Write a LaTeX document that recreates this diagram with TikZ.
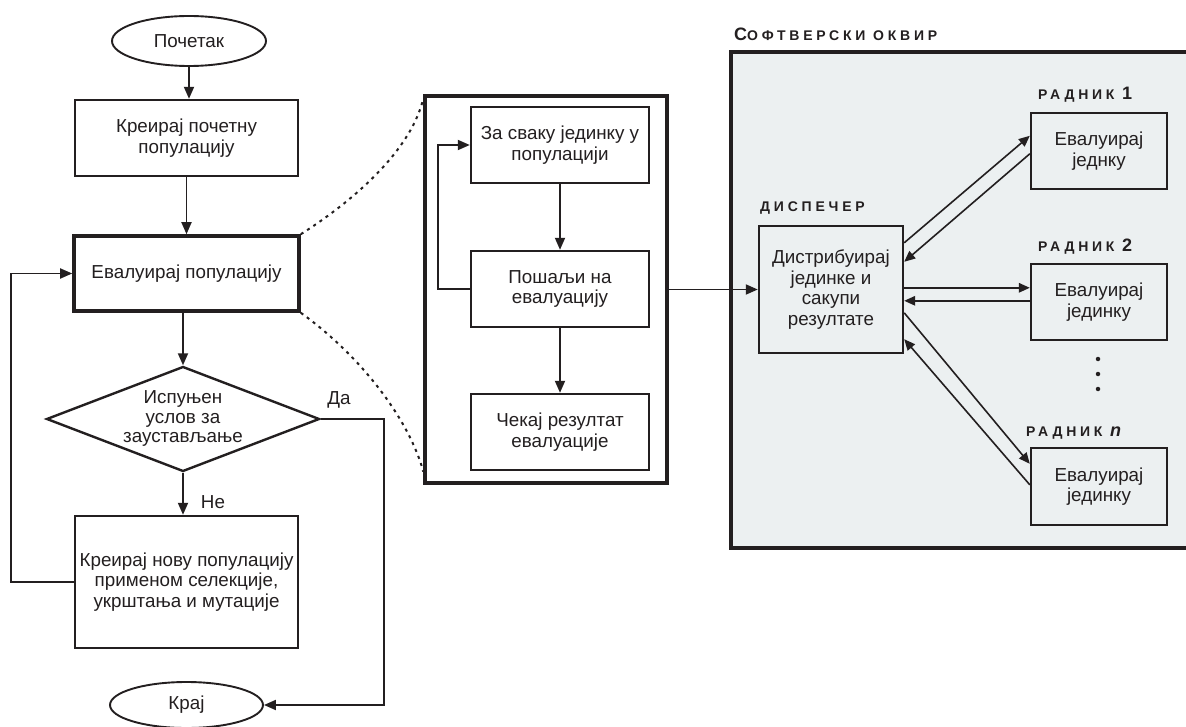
\documentclass[tikz,border=0pt]{standalone}
\usepackage{fontspec}
\setmainfont{Liberation Sans}
\usetikzlibrary{shapes.geometric,arrows.meta,calc}
\definecolor{ink}{RGB}{35,31,32}
\definecolor{panel}{RGB}{236,240,241}
% bold, letter-spaced caption text
\newcommand{\capsmall}[1]{{\fontsize{14}{16}\selectfont\bfseries\addfontfeature{LetterSpace=27}#1}}
\newcommand{\capbig}[1]{{\fontsize{18}{20}\selectfont\bfseries\addfontfeature{LetterSpace=27}#1}}
\begin{document}
\begin{tikzpicture}[x=1pt,y=-1pt,
  txt/.style={font=\fontsize{18.8}{20.5}\selectfont, text=ink, align=center},
  box/.style={txt, draw=ink, line width=2.4pt, inner sep=0pt, rectangle},
  terminal/.style={txt, draw=ink, line width=1.9pt, ellipse, inner sep=0pt},
  decision/.style={draw=ink, line width=2.4pt, diamond, inner sep=0pt},
  arr/.style={draw=ink, line width=1.8pt, -{Triangle[length=12pt,width=10pt]}},
  link/.style={draw=ink, line width=1.6pt, -{Triangle[length=11pt,width=9.5pt]}},
  zoomline/.style={draw=ink, line width=2pt, dash pattern=on 3pt off 4.5pt},
  caption/.style={text=ink, inner sep=0pt, anchor=base west},
  dot/.style={circle, fill=ink, inner sep=0pt, minimum size=4.5pt}
]
\clip (0,0) rectangle (1186,727);
\fill[white] (0,0) rectangle (1186,727);

% ---------------- main loop of the genetic algorithm ----------------
\node[terminal, minimum width=154pt, minimum height=50pt] (start) at (189,41) {Почетак};
\node[box, minimum width=223pt, minimum height=76pt] (init) at (186.5,138) {Креирај почетну\\популацију};
\node[box, line width=3.6pt, minimum width=225pt, minimum height=75pt] (eval) at (186.5,273.5) {Евалуирај популацију};
\node[decision, minimum width=273pt, minimum height=105pt] (stop) at (183,419) {};
\node[txt, font=\fontsize{18.8}{19.5}\selectfont, inner sep=0pt] (stoptext) at (183,418.5) {Испуњен\\услов за\\заустављање};
\node[box, minimum width=223pt, minimum height=132pt] (next) at (186.5,582) {Креирај нову популацију\\применом селекције,\\укрштања и мутације};
\node[terminal, minimum width=153pt, minimum height=46pt] (end) at (186.5,705) {Крај};

\node[txt, inner sep=0pt] (yes) at (339,400) {Да};
\node[txt, inner sep=0pt] (no) at (213,502) {Не};

\draw[arr] (start.south) -- (start.south |- init.north);
\draw[arr] (init.south) -- (init.south |- eval.north);
\draw[arr] (stop.north |- eval.south) -- (stop.north);
\draw[arr] (stop.south) -- (stop.south |- next.north);
\draw[arr] (stop.east) -- ++(63.5,0) |- (end.east);
\draw[arr] (next.west) -- ++(-63,0) |- (eval.west);

% ---------------- expanded evaluation step ----------------
\node[box, line width=3.4pt, minimum width=242pt, minimum height=387pt] (mid) at (546,289.5) {};
\node[box, minimum width=178pt, minimum height=76pt] (each) at (560,145) {За сваку јединку у\\популацији};
\node[box, minimum width=178pt, minimum height=76pt] (send) at (560,289) {Пошаљи на\\евалуацију};
\node[box, minimum width=178pt, minimum height=76pt] (wait) at (560,432) {Чекај резултат\\евалуације};

\draw[arr] (each.south) -- (send.north);
\draw[arr] (send.south) -- (wait.north);
\draw[arr] (send.west) -- ++(-32,0) |- (each.west);

\draw[zoomline] (eval.north east) .. controls +(60,-38) and +(-11,48) .. ($(mid.north west)+(0,4)$);
\draw[zoomline] (eval.south east) .. controls +(60,43) and +(-14,-52) .. ($(mid.south west)+(0,-13)$);

% ---------------- software framework ----------------
\node[draw=ink, fill=panel, line width=3.8pt, inner sep=0pt, minimum width=469pt, minimum height=496pt] (frame) at (965.5,300) {};
\node[caption] (frametitle) at (734,41) {\capbig{С}\capsmall{ОФТВЕРСКИ ОКВИР}};

\node[box, minimum width=144pt, minimum height=127pt] (disp) at (831,289.5) {Дистрибуирај\\јединке и\\сакупи\\резултате};
\node[caption] (displabel) at (760,212) {\capsmall{ДИСПЕЧЕР}};

\node[box, minimum width=136pt, minimum height=76pt] (w1) at (1099,151) {Евалуирај\\једнку};
\node[caption] (w1label) at (1038,100) {\capsmall{РАДНИК }\capbig{1}};
\node[box, minimum width=136pt, minimum height=76pt] (w2) at (1099,302) {Евалуирај\\јединку};
\node[caption] (w2label) at (1038,252) {\capsmall{РАДНИК }\capbig{2}};
\node[box, minimum width=136pt, minimum height=77pt] (wn) at (1099,486.5) {Евалуирај\\јединку};
\node[caption] (wnlabel) at (1026,436) {\capsmall{РАДНИК }\capbig{\itshape n}};

\node[dot] (d1) at (1098,359) {};
\node[dot] (d2) at (1098,374) {};
\node[dot] (d3) at (1098,389) {};

\draw[arr] (mid.east) -- (mid.east -| disp.west);

\draw[link] ($(disp.north east)+(0,18)$) -- ($(w1.north west)+(0,24)$);
\draw[link] ($(w1.north west)+(0,42)$) -- ($(disp.north east)+(0,37)$);
\coordinate (w2in) at ($(w2.north west)+(0,25)$);
\coordinate (w2out) at ($(w2.north west)+(0,38)$);
\draw[link] (disp.east |- w2in) -- (w2in);
\draw[link] (w2out) -- (disp.east |- w2out);
\draw[link] ($(disp.north east)+(0,88)$) -- ($(wn.north west)+(0,17)$);
\draw[link] ($(wn.north west)+(0,38)$) -- ($(disp.south east)+(0,-15)$);
\end{tikzpicture}
\end{document}
